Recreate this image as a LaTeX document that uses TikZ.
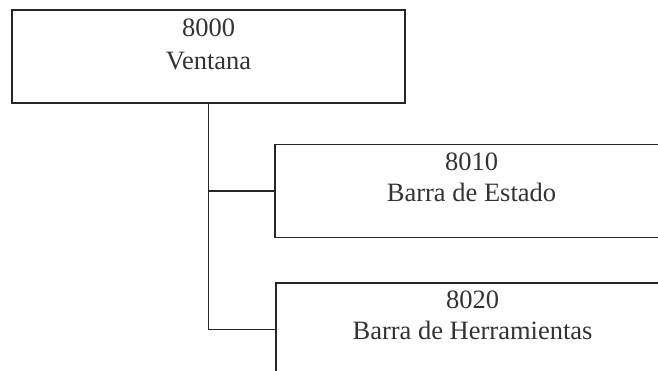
\documentclass[tikz,border=0pt]{standalone}
\usepackage{fontspec}
\setmainfont{Liberation Serif}
\begin{document}
\begin{tikzpicture}[x=1pt,y=-1pt,
  box/.style={draw=black!85, line width=1.6pt, rectangle, minimum width=393pt, minimum height=93pt, inner sep=0pt},
  lbl/.style={anchor=base, inner sep=0pt, text=black!80, font=\fontsize{26.5pt}{31pt}\selectfont},
  conn/.style={draw=black!85, line width=1.6pt}]
\useasboundingbox (0,0) rectangle (658,371);
\clip (0,0) rectangle (658,371);
\fill[white] (0,0) rectangle (658,371);
\node[box] (v) at (208.5,56.5) {};
\node[box] (e) at (471.5,191) {};
\node[box] (h) at (472.5,329.5) {};
\node[lbl] (v1) at ([yshift=-27pt]v.north) {8000};
\node[lbl] (v2) at ([yshift=-60pt]v.north) {Ventana};
\node[lbl] (e1) at ([yshift=-27pt]e.north) {8010};
\node[lbl] (e2) at ([yshift=-58pt]e.north) {Barra de Estado};
\node[lbl] (h1) at ([yshift=-26pt]h.north) {8020};
\node[lbl] (h2) at ([yshift=-57pt]h.north) {Barra de Herramientas};
\draw[conn] (v.south) |- (e.west);
\draw[conn] (v.south) |- (h.west);
\end{tikzpicture}
\end{document}
